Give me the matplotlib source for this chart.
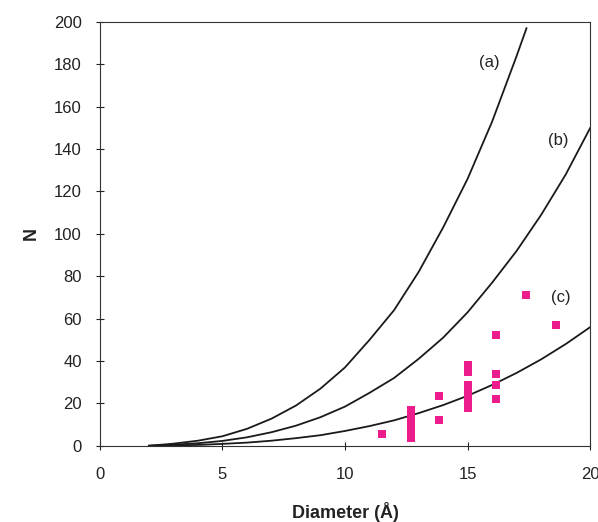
import matplotlib.pyplot as plt

plt.rcParams['font.family'] = ['Liberation Sans', 'DejaVu Sans']

# curves
d_a = [2, 3, 4, 5, 6, 7, 8, 9, 10, 11, 12, 13, 14, 15, 16, 17, 17.4]
n_a = [0, 1.0, 2.4, 4.5, 8, 12.8, 19, 27, 37, 50, 64, 82, 103, 126, 153, 184, 197]

d_b = [2, 3, 4, 5, 6, 7, 8, 9, 10, 11, 12, 13, 14, 15, 16, 17, 18, 19, 20]
n_b = [0, 0.5, 1.2, 2.3, 4, 6.4, 9.5, 13.5, 18.5, 25, 32, 41, 51, 63, 77, 92, 109, 128, 150]

d_c = [2, 4, 5, 6, 7, 8, 9, 10, 11, 12, 13, 14, 15, 16, 17, 18, 19, 20]
n_c = [0, 0.4, 0.9, 1.5, 2.4, 3.6, 5, 7, 9.3, 12, 15.4, 19.2, 23.6, 28.7, 34.4, 40.8, 48, 56]

# measured points
d_pts = [11.5,
         12.7, 12.7, 12.7, 12.7, 12.7, 12.7, 12.7, 12.7,
         13.85, 13.85,
         15.0, 15.0, 15.0, 15.0, 15.0, 15.0, 15.0,
         16.15, 16.15, 16.15, 16.15,
         17.4, 18.6]
n_pts = [5.5,
         3.5, 5, 7, 9, 11, 13, 15, 17,
         23.5, 12,
         38, 35, 28.5, 26, 23.5, 21, 18,
         52.5, 34, 28.5, 22,
         71, 57]

labels = ['(a)', '(b)', '(c)']
label_x = [15.9, 18.7, 18.8]
label_y = [181, 144, 70]

fig = plt.figure(figsize=(5.98, 5.22), dpi=100)
ax = fig.add_axes([0.167, 0.146, 0.82, 0.812])

for d, n in [(d_a, n_a), (d_b, n_b), (d_c, n_c)]:
    ax.plot(d, n, color='#1a1a1a', lw=1.3)

ax.plot(d_pts, n_pts, linestyle='none', marker='s', markersize=6,
        color='#ec1c8c', markeredgewidth=0)

for lab, x, y in zip(labels, label_x, label_y):
    ax.text(x, y, lab, fontsize=12, ha='center', va='center', color='#222222')

ax.set_xlim(0, 20)
ax.set_ylim(0, 200)
ax.set_xticks(range(0, 21, 5))
ax.set_yticks(range(0, 201, 20))
ax.tick_params(direction='inout', length=6, width=0.8, labelsize=12,
               colors='#222222')
ax.tick_params(axis='y', pad=10)
ax.tick_params(axis='x', pad=12)
for s in ax.spines.values():
    s.set_linewidth(0.8)
    s.set_color('#333333')

ax.set_xlabel('Diameter (Å)', fontsize=13, fontweight='bold', labelpad=15,
              color='#222222')
ax.set_ylabel('N', fontsize=13, fontweight='bold', labelpad=10,
              color='#222222')

fig.savefig('out.png', dpi=100)
